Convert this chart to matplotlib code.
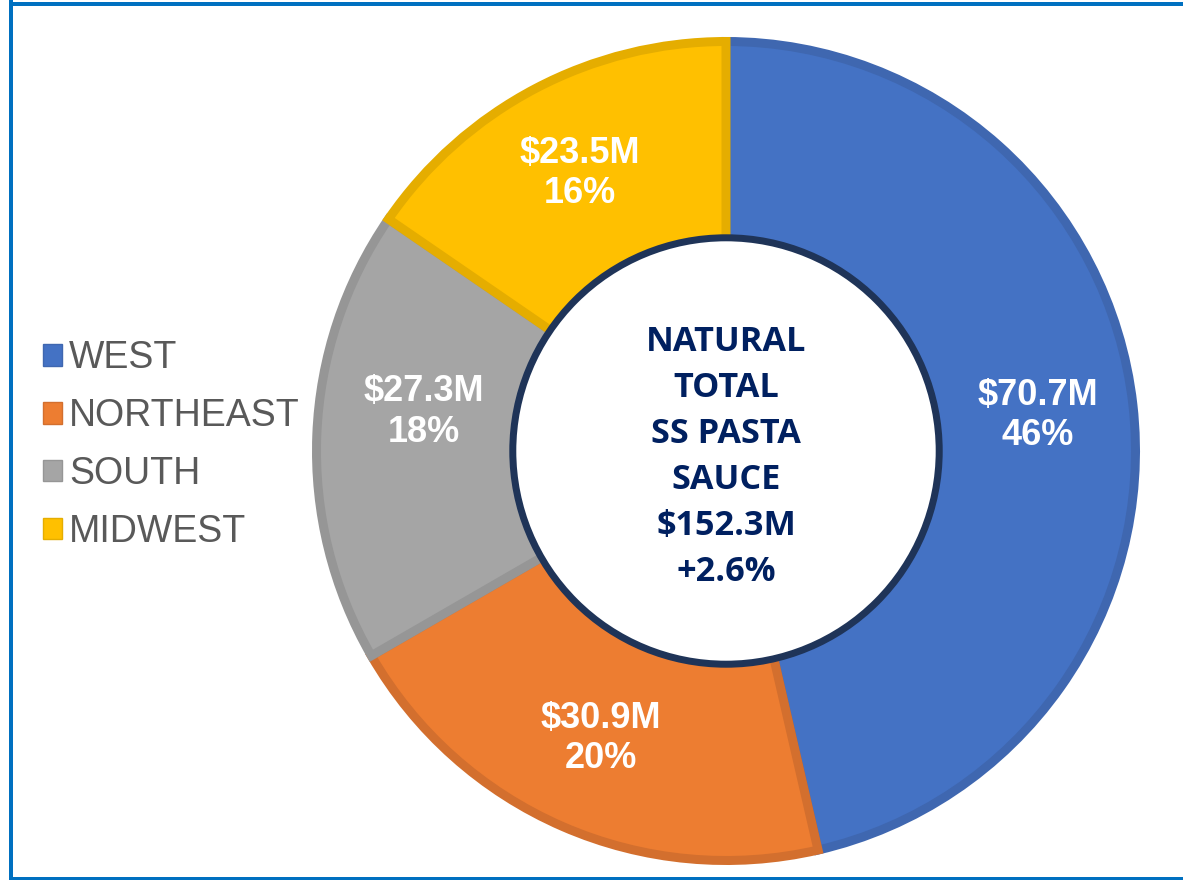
import matplotlib
matplotlib.use("Agg")
import matplotlib.pyplot as plt
from matplotlib.patches import Circle, Patch
from matplotlib.lines import Line2D
import numpy as np

regions = ["WEST", "NORTHEAST", "SOUTH", "MIDWEST"]
sales_m = [70.7, 30.9, 27.3, 23.5]
share_labels = ["46%", "20%", "18%", "16%"]
fill_colors = ["#4472C4", "#ED7D31", "#A5A5A5", "#FFC000"]
edge_colors = ["#3F67B0", "#D36F2E", "#969696", "#E5AD00"]
center_lines = ["NATURAL", "TOTAL", "SS PASTA", "SAUCE", "$152.3M", "+2.6%"]

W, H = 1183, 880
fig = plt.figure(figsize=(W / 100, H / 100), dpi=100)
fig.patch.set_facecolor("white")

cx, cy, R = 726, 451, 414  # pixel coords (top-based y)
ax = fig.add_axes([(cx - R) / W, (H - cy - R) / H, 2 * R / W, 2 * R / H])
ax.axis("off")

stroke_px = 9
r_out = 1 - (stroke_px / 2) / R
r_in = 0.515
wedges, _ = ax.pie(sales_m, colors=fill_colors, startangle=90, counterclock=False,
                   radius=r_out, wedgeprops=dict(width=r_out - r_in + 0.03,
                                                 linewidth=stroke_px * 72 / 100))
ax.set_xlim(-1, 1)
ax.set_ylim(-1, 1)
ax.set_aspect("equal")
for w, ec in zip(wedges, edge_colors):
    w.set_edgecolor(ec)
    w.set_joinstyle("miter")

ax.add_patch(Circle((0, 0), r_in, facecolor="white", edgecolor="#1F3458",
                    linewidth=7 * 72 / 100, zorder=5))

# small manual nudges of label placement (axes units), as in the original
nudges = {"SOUTH": (0.027, 0.065)}
r_lab = (1 + r_in) / 2
for w, name, v, p in zip(wedges, regions, sales_m, share_labels):
    ang = np.deg2rad((w.theta1 + w.theta2) / 2)
    dx, dy = nudges.get(name, (0, 0))
    ax.text(r_lab * np.cos(ang) + dx, r_lab * np.sin(ang) + dy, f"${v}M\n{p}",
            ha="center", va="center", color="white", fontsize=26,
            fontweight="bold", family="Liberation Sans", linespacing=1.2, zorder=6)

ax.text(0, -0.015, "\n".join(center_lines), ha="center", va="center",
        color="#002060", fontsize=24.7, fontweight="bold", family="Open Sans",
        linespacing=1.46, zorder=6)

handles = [Patch(facecolor=fc, edgecolor=ec, linewidth=1) for fc, ec in zip(fill_colors, edge_colors)]
leg = fig.legend(handles, regions, loc="center left",
                 bbox_to_anchor=(43 / W, 1 - 445 / H), frameon=False,
                 prop=dict(family="Liberation Sans", size=27),
                 handlelength=0.5, handleheight=0.5, handletextpad=0.2,
                 labelspacing=0.58, borderpad=0, borderaxespad=0)
for t in leg.get_texts():
    t.set_color("#595959")

# blue frame
lw = 4 * 72 / 100
frame_c = "#0070C0"
fig.add_artist(Line2D([11 / W, 1], [1 - 4.5 / H, 1 - 4.5 / H], color=frame_c, lw=lw, transform=fig.transFigure))
fig.add_artist(Line2D([11 / W, 11 / W], [1 - 2.5 / H, 0], color=frame_c, lw=lw, transform=fig.transFigure))
fig.add_artist(Line2D([11 / W, 1], [1.5 / H, 1.5 / H], color=frame_c, lw=lw, transform=fig.transFigure))

fig.savefig("out.png", dpi=100, facecolor="white")
